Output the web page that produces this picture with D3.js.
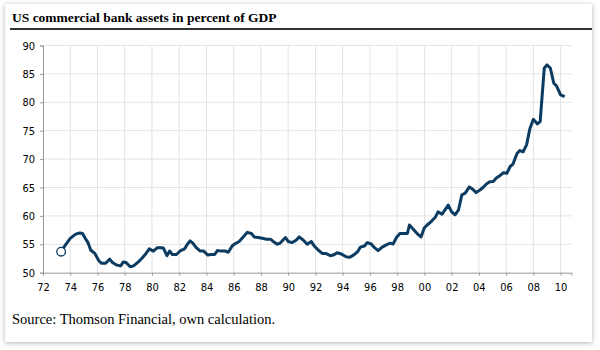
<!DOCTYPE html>
<html>
<head>
<meta charset="utf-8">
<script src="https://cdn.jsdelivr.net/npm/d3@7"></script>
<style>
  body { margin: 0; background: #fff; }
  svg { display: block; }
</style>
</head>
<body>
<svg id="chart" width="600" height="350"></svg>
<script>
// Quarterly readings (fractional year, 1900-based) of bank assets in % of GDP
const years = [
  73.33, 73.65, 74.0, 74.4, 74.7, 74.9, 75.1, 75.3, 75.5, 75.8,
  76.1, 76.3, 76.6, 76.9, 77.1, 77.4, 77.7, 77.9, 78.1, 78.4,
  78.65, 79.0, 79.25, 79.5, 79.8, 80.1, 80.4, 80.7, 80.85, 81.1,
  81.3, 81.5, 81.8, 82.1, 82.4, 82.6, 82.8, 83.0, 83.25, 83.55,
  83.8, 84.1, 84.3, 84.6, 84.8, 85.1, 85.4, 85.6, 85.9, 86.1,
  86.4, 86.7, 87.0, 87.3, 87.5, 87.8, 88.1, 88.4, 88.7, 88.9,
  89.2, 89.4, 89.8, 90.0, 90.3, 90.6, 90.8, 91.1, 91.4, 91.7,
  91.9, 92.2, 92.5, 92.75, 93.1, 93.3, 93.6, 93.9, 94.25, 94.5,
  94.8, 95.1, 95.3, 95.6, 95.8, 96.1, 96.3, 96.6, 96.9, 97.2,
  97.5, 97.7, 97.95, 98.2, 98.5, 98.75, 98.9, 99.2, 99.5, 99.75,
  100.0, 100.2, 100.5, 100.8, 101.0, 101.3, 101.5, 101.75, 102.0, 102.25,
  102.5, 102.75, 103.0, 103.3, 103.55, 103.8, 104.1, 104.3, 104.6, 104.8,
  105.05, 105.3, 105.5, 105.8, 106.05, 106.3, 106.5, 106.8, 107.0, 107.25,
  107.5, 107.75, 108.0, 108.3, 108.5, 108.8, 109.0, 109.25, 109.5, 109.7,
  110.0, 110.3
];
const assets = [
  53.7, 54.9, 56.05, 56.8, 57.0, 56.9, 56.05, 55.3, 54.0, 53.4,
  52.1, 51.65, 51.65, 52.4, 51.8, 51.35, 51.2, 51.9, 51.8, 51.05,
  51.2, 51.9, 52.5, 53.2, 54.2, 53.8, 54.4, 54.4, 54.3, 53.0,
  53.8, 53.2, 53.2, 53.9, 54.2, 55.0, 55.6, 55.2, 54.4, 53.8,
  53.8, 53.1, 53.2, 53.2, 53.9, 53.8, 53.8, 53.6, 54.75, 55.1,
  55.5, 56.3, 57.1, 56.9, 56.3, 56.2, 56.05, 55.9, 55.9, 55.5,
  55.0, 55.2, 56.2, 55.5, 55.3, 55.75, 56.3, 55.75, 55.0, 55.5,
  54.75, 54.0, 53.4, 53.4, 53.0, 53.1, 53.5, 53.3, 52.8, 52.7,
  53.1, 53.7, 54.5, 54.7, 55.3, 55.05, 54.5, 53.9, 54.5, 54.9,
  55.2, 55.05, 56.2, 56.9, 56.9, 56.9, 58.4, 57.6, 56.8, 56.3,
  57.9, 58.4, 59.0, 59.75, 60.7, 60.3, 61.0, 61.9, 60.7, 60.2,
  61.0, 63.7, 64.0, 65.1, 64.7, 64.1, 64.6, 65.0, 65.7, 66.0,
  66.05, 66.7, 67.0, 67.6, 67.5, 68.7, 69.1, 71.0, 71.5, 71.3,
  72.5, 75.4, 77.0, 76.2, 76.6, 86.0, 86.6, 86.0, 83.35, 82.9,
  81.3, 81.0
];
const xTicks = [72, 74, 76, 78, 80, 82, 84, 86, 88, 90, 92, 94, 96, 98, 100, 102, 104, 106, 108, 110];
const yTicks = [50, 55, 60, 65, 70, 75, 80, 85, 90];
const title = "US commercial bank assets in percent of GDP";
const source = "Source: Thomson Financial, own calculation.";

const svg = d3.select("#chart");

// card with soft shadow
const defs = svg.append("defs");
const shadow = defs.append("filter").attr("id", "shadow")
  .attr("x", "-5%").attr("y", "-5%").attr("width", "110%").attr("height", "112%");
shadow.append("feDropShadow")
  .attr("dx", 0).attr("dy", 1).attr("stdDeviation", 2.5)
  .attr("flood-color", "#000").attr("flood-opacity", 0.3);

svg.append("rect")
  .attr("x", 5).attr("y", 4).attr("width", 587).attr("height", 338)
  .attr("fill", "#fff")
  .attr("filter", "url(#shadow)");

// title + rule
svg.append("text")
  .attr("x", 12).attr("y", 22)
  .style("font-family", "'Liberation Serif', serif")
  .style("font-weight", "bold")
  .style("font-size", "13.5px")
  .attr("fill", "#000")
  .text(title);

svg.append("line")
  .attr("x1", 10).attr("x2", 592).attr("y1", 29).attr("y2", 29)
  .attr("stroke", "#333").attr("stroke-width", 2);

// scales
const x = d3.scaleLinear().domain([72, 110.8]).range([43, 571.5]);
const y = d3.scaleLinear().domain([50, 90]).range([272.7, 45.5]);

const grid = svg.append("g");
grid.selectAll(".vgrid")
  .data(xTicks.slice(1))
  .join("line")
  .attr("x1", d => x(d)).attr("x2", d => x(d))
  .attr("y1", y(90)).attr("y2", y(50))
  .attr("stroke", "#e3e3e3").attr("stroke-width", 1);
grid.selectAll(".hgrid")
  .data(yTicks.slice(1))
  .join("line")
  .attr("x1", x(72)).attr("x2", x.range()[1])
  .attr("y1", d => y(d)).attr("y2", d => y(d))
  .attr("stroke", "#e3e3e3").attr("stroke-width", 1);

const tickFont = "'DejaVu Sans Condensed', 'DejaVu Sans', sans-serif";

const yAxis = svg.append("g")
  .attr("transform", `translate(${x(72)},0)`)
  .call(d3.axisLeft(y).tickValues(yTicks).tickSize(3).tickPadding(5));
const xAxis = svg.append("g")
  .attr("transform", `translate(0,${y(50)})`)
  .call(d3.axisBottom(x).tickValues(xTicks).tickSize(3).tickPadding(8)
    .tickFormat(d => d3.format("02d")(d % 100)));

[yAxis, xAxis].forEach(g => {
  g.select(".domain").attr("stroke", "#999");
  g.selectAll(".tick line").attr("stroke", "#999");
  g.selectAll(".tick text")
    .attr("fill", "#000")
    .style("font-family", tickFont)
    .style("font-size", "11px");
});

// series
const pts = years.map((d, i) => [d, assets[i]]);
svg.append("path")
  .datum(pts)
  .attr("fill", "none")
  .attr("stroke", "#0b3b61")
  .attr("stroke-width", 3)
  .attr("stroke-linejoin", "round")
  .attr("d", d3.line().x(d => x(d[0])).y(d => y(d[1])));

svg.append("circle")
  .attr("cx", x(years[0])).attr("cy", y(assets[0]))
  .attr("r", 4.3)
  .attr("fill", "#fff")
  .attr("stroke", "#0b3b61")
  .attr("stroke-width", 1.3);

// source note
svg.append("text")
  .attr("x", 12).attr("y", 324)
  .style("font-family", "'Liberation Serif', serif")
  .style("font-size", "14.5px")
  .attr("fill", "#000")
  .text(source);
</script>
</body>
</html>
